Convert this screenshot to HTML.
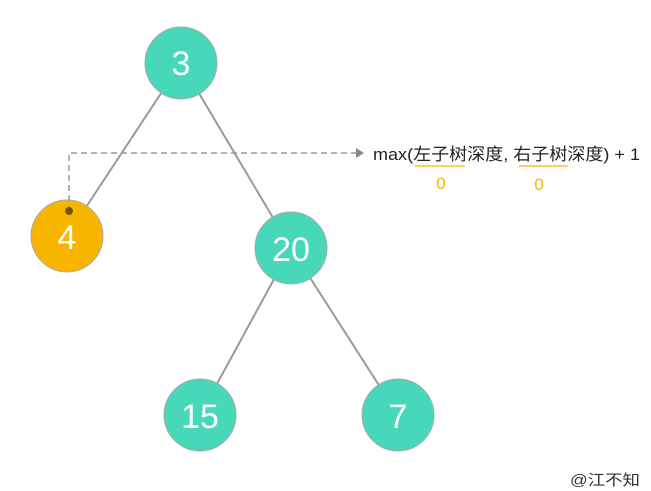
<!DOCTYPE html>
<html><head><meta charset="utf-8"><style>
html,body{margin:0;padding:0;background:#fff;}
svg{display:block;}
text{font-family:"Liberation Sans","Noto Sans CJK SC",sans-serif;}
</style></head><body>
<svg width="651" height="491" viewBox="0 0 651 491" xmlns="http://www.w3.org/2000/svg">
<g stroke="#999" stroke-width="2">
<line x1="181" y1="63" x2="67" y2="236"/>
<line x1="181" y1="63" x2="291" y2="248"/>
<line x1="291" y1="248" x2="200" y2="415"/>
<line x1="291" y1="248" x2="398" y2="415"/>
</g>
<g stroke="#aaa" stroke-width="1">
<circle cx="181" cy="63" r="36" fill="#46d8b8"/>
<circle cx="67" cy="236" r="36" fill="#f7b500"/>
<circle cx="291" cy="248" r="36" fill="#46d8b8"/>
<circle cx="200" cy="415" r="36" fill="#46d8b8"/>
<circle cx="398" cy="415" r="36" fill="#46d8b8"/>
</g>
<polyline points="69,211 69,153 356,153" fill="none" stroke="#999" stroke-width="1.5" stroke-dasharray="6,4"/>
<polygon points="356,148 364,153 356,158" fill="#888"/>
<circle cx="69" cy="211" r="4" fill="#7a5500"/>
<g fill="#fff" font-size="34" text-anchor="middle">
<text x="181" y="75">3</text>
<text x="67" y="249">4</text>
<text x="291" y="261">20</text>
<text x="200" y="428">15</text>
<text x="398" y="428">7</text>
</g>
<text x="373" y="160" font-size="17" fill="#222" textLength="267" lengthAdjust="spacingAndGlyphs">max(左子树深度, 右子树深度) + 1</text>
<g stroke="#f7b500" stroke-width="1.2">
<line x1="415" y1="166" x2="465" y2="166"/>
<line x1="519" y1="166" x2="568" y2="166"/>
</g>
<g fill="#f7b500" font-size="17" text-anchor="middle">
<text x="441" y="189">0</text>
<text x="539" y="190">0</text>
</g>
<text x="570" y="485" font-size="15" fill="#333" textLength="70" lengthAdjust="spacingAndGlyphs">@江不知</text>
</svg>
</body></html>
